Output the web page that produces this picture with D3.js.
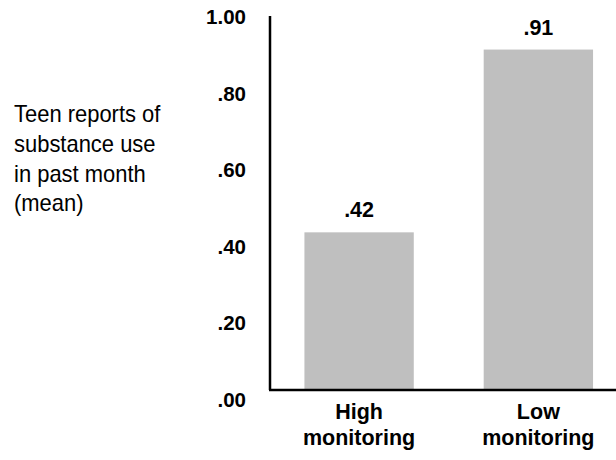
<!DOCTYPE html>
<html>
<head>
<meta charset="utf-8">
<script src="https://cdn.jsdelivr.net/npm/d3@7"></script>
<style>
  body { margin: 0; background: #fff; }
  text { font-family: "Liberation Sans", Arial, sans-serif; fill: #000; }
</style>
</head>
<body>
<script>
/**Data */
const groups = ["High monitoring", "Low monitoring"];
const means = [0.42, 0.91];
const valueLabels = [".42", ".91"];
const yTicks = [0, 0.2, 0.4, 0.6, 0.8, 1.0];
const yTickLabels = [".00", ".20", ".40", ".60", ".80", "1.00"];
const titleLines = ["Teen reports of", "substance use", "in past month", "(mean)"];

const width = 616;
const height = 460;

var svg = d3.select("body").append("svg")
  .attr("width", width)
  .attr("height", height);

// bars live between these two axis lines
var x = d3.scaleBand()
  .domain(groups)
  .range([270, 616])
  .paddingInner(0.39)
  .paddingOuter(0.16)
  .align(0.6);

var y = d3.scaleLinear()
  .domain([0, 1])
  .range([389, 16]);

// tick labels sit a little below their values, like the original
var yLabel = d3.scaleLinear()
  .domain([0, 1])
  .range([406.5, 24]);

svg.selectAll("rect.bar")
  .data(groups)
  .enter()
  .append("rect")
  .attr("class", "bar")
  .attr("x", (g) => x(g))
  .attr("width", x.bandwidth())
  .attr("y", (g, i) => y(means[i]))
  .attr("height", (g, i) => y(0) - y(means[i]))
  .attr("fill", "#bfbfbf");

// axis lines
svg.append("line")
  .attr("x1", 270).attr("x2", 270)
  .attr("y1", y(1)).attr("y2", y(0) + 1)
  .attr("stroke", "#000").attr("stroke-width", 2.5);
svg.append("line")
  .attr("x1", 269).attr("x2", 616)
  .attr("y1", y(0) + 1).attr("y2", y(0) + 1)
  .attr("stroke", "#000").attr("stroke-width", 2.5);

// y tick labels
svg.selectAll("text.ytick")
  .data(yTicks)
  .enter()
  .append("text")
  .attr("class", "ytick")
  .attr("x", 246)
  .attr("y", (v) => yLabel(v))
  .attr("text-anchor", "end")
  .attr("font-weight", "bold")
  .attr("font-size", "20.5px")
  .text((v, i) => yTickLabels[i]);

// value labels
svg.selectAll("text.value")
  .data(groups)
  .enter()
  .append("text")
  .attr("class", "value")
  .attr("x", (g) => x(g) + x.bandwidth() / 2)
  .attr("y", (g, i) => y(means[i]) - 15)
  .attr("text-anchor", "middle")
  .attr("font-weight", "bold")
  .attr("font-size", "21.5px")
  .text((g, i) => valueLabels[i]);

// category labels, two lines each
var cat = svg.selectAll("text.cat")
  .data(groups)
  .enter()
  .append("text")
  .attr("class", "cat")
  .attr("text-anchor", "middle")
  .attr("font-weight", "bold")
  .attr("font-size", "21.5px");
cat.append("tspan")
  .attr("x", (g) => x(g) + x.bandwidth() / 2)
  .attr("y", 419)
  .text((g) => g.split(" ")[0]);
cat.append("tspan")
  .attr("x", (g) => x(g) + x.bandwidth() / 2)
  .attr("y", 445)
  .text((g) => g.split(" ")[1]);

// left title, slightly condensed
var title = svg.append("g")
  .attr("transform", "translate(14,0) scale(0.955,1)");
title.selectAll("text.title")
  .data(titleLines)
  .enter()
  .append("text")
  .attr("class", "title")
  .attr("x", 0)
  .attr("y", (d, i) => 122.5 + i * 29.6)
  .attr("font-size", "23px")
  .text((d) => d);
</script>
</body>
</html>
